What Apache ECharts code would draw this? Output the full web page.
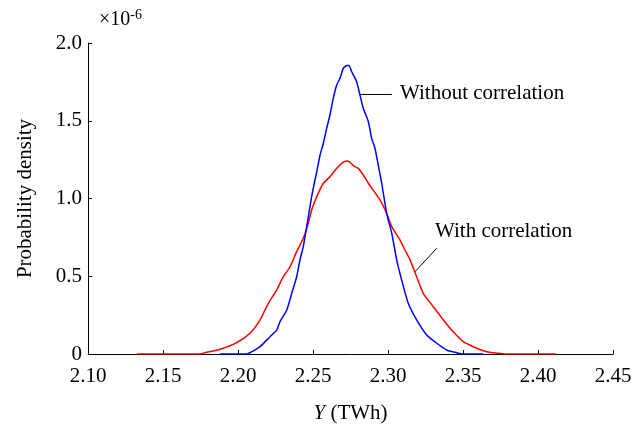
<!DOCTYPE html>
<html>
<head>
<meta charset="utf-8">
<script src="https://cdn.jsdelivr.net/npm/echarts@6/dist/echarts.min.js"></script>
<style>
html,body{margin:0;padding:0;background:#fff;}
#c{width:644px;height:425px;}
</style>
</head>
<body>
<div id="c"></div>
<script>
// x values in TWh, y values in units of 1e-6
var blueX = [2.188,2.206,2.208,2.2147,2.2213,2.2258,2.228,2.2325,2.2358,2.2391,2.2413,2.2435,2.2458,2.2491,2.2513,2.2525,2.2547,2.2569,2.2591,2.2613,2.2635,2.2658,2.268,2.2702,2.2725,2.274,2.2758,2.2791,2.2813,2.2835,2.2869,2.2891,2.2913,2.2935,2.2958,2.2991,2.3025,2.3058,2.3091,2.3135,2.3191,2.3258,2.3325,2.3391,2.3458,2.3493,2.3633];
var blueY = [0,0,0.008,0.047,0.111,0.154,0.208,0.283,0.390,0.497,0.605,0.690,0.819,1.012,1.119,1.172,1.280,1.355,1.451,1.537,1.644,1.730,1.773,1.837,1.856,1.856,1.815,1.751,1.666,1.580,1.494,1.387,1.323,1.215,1.098,0.905,0.776,0.605,0.476,0.326,0.219,0.122,0.069,0.026,0.008,0,0];
var redX = [2.1327,2.1747,2.178,2.188,2.1991,2.208,2.2147,2.2202,2.2258,2.2302,2.2347,2.2391,2.2435,2.2469,2.2491,2.2525,2.2569,2.2613,2.2658,2.2691,2.2725,2.2747,2.2769,2.2802,2.2835,2.2869,2.2947,2.2991,2.3025,2.308,2.3113,2.3147,2.3191,2.3235,2.3302,2.3369,2.3435,2.3502,2.3569,2.3658,2.3733,2.378,2.412];
var redY = [0,0,0.008,0.030,0.073,0.133,0.219,0.326,0.412,0.497,0.561,0.658,0.744,0.841,0.926,1.012,1.098,1.140,1.194,1.226,1.241,1.233,1.211,1.194,1.151,1.098,0.990,0.905,0.819,0.733,0.669,0.605,0.497,0.390,0.304,0.219,0.143,0.079,0.047,0.015,0.005,0,0];
var xTicks = {min: 2.10, max: 2.45, step: 0.05};
var yTicks = {min: 0, max: 2.0, step: 0.5};
var seriesNames = ['Without correlation', 'With correlation'];

function pairs(xs, ys){ return xs.map(function(x,i){return [x, ys[i]];}); }

var FONT = '"Liberation Serif", "Times New Roman", serif';
var FS = 21;
var chart = echarts.init(document.getElementById('c'));
var axisCommon = {
  axisLine: {show: true, lineStyle: {color: '#000', width: 1}},
  axisTick: {show: true, inside: true, length: 4, lineStyle: {color: '#000'}},
  splitLine: {show: false}
};
chart.setOption({
  animation: false,
  grid: {left: 88, right: 31, top: 43, bottom: 71, containLabel: false, outerBoundsMode: 'none'},
  xAxis: Object.assign({
    type: 'value', min: xTicks.min, max: xTicks.max, interval: xTicks.step,
    name: '{i|Y} (TWh)', nameLocation: 'middle', nameGap: 49,
    nameTextStyle: {fontFamily: FONT, fontSize: FS, color: '#000',
      rich: {i: {fontFamily: FONT, fontSize: FS, fontStyle: 'italic', color: '#000'}}},
    axisLabel: {fontFamily: FONT, fontSize: FS, color: '#000', margin: 12,
      formatter: function(v){ return v.toFixed(2); }}
  }, axisCommon),
  yAxis: Object.assign({
    type: 'value', min: yTicks.min, max: yTicks.max, interval: yTicks.step,
    name: 'Probability density', nameLocation: 'middle', nameGap: 52,
    nameTextStyle: {fontFamily: FONT, fontSize: FS, color: '#000'},
    axisLabel: {fontFamily: FONT, fontSize: FS, color: '#000', margin: 6,
      formatter: function(v){ return v === 0 ? '0' : v.toFixed(1); }}
  }, axisCommon),
  series: [
    {name: seriesNames[0], type: 'line', data: pairs(blueX, blueY), showSymbol: false, smooth: 0.2,
      lineStyle: {color: '#0000ff', width: 1.5}, z: 3,
      markLine: {silent: true, symbol: 'none', label: {show: false},
        lineStyle: {color: '#000', width: 1, type: 'solid'},
        data: [[{coord: [2.2813, 1.67]}, {coord: [2.3025, 1.67]}]]}},
    {name: seriesNames[1], type: 'line', data: pairs(redX, redY), showSymbol: false, smooth: 0.2,
      lineStyle: {color: '#ff0000', width: 1.5}, z: 2,
      markLine: {silent: true, symbol: 'none', label: {show: false},
        lineStyle: {color: '#000', width: 1, type: 'solid'},
        data: [[{coord: [2.318, 0.529]}, {coord: [2.3325, 0.68]}]]}}
  ],
  graphic: [
    {type: 'text', left: 99, top: 8, style: {text: '×10{s|-6}', font: '20px ' + FONT, fill: '#000',
      rich: {s: {fontSize: 14, fontFamily: FONT, fill: '#000', verticalAlign: 'top', padding: [0,0,10,0]}}}},
    {type: 'text', left: 400, top: 83, style: {text: seriesNames[0], font: FS + 'px ' + FONT, fill: '#000'}},
    {type: 'text', left: 435, top: 221, style: {text: seriesNames[1], font: FS + 'px ' + FONT, fill: '#000'}}
  ]
});
</script>
</body>
</html>
